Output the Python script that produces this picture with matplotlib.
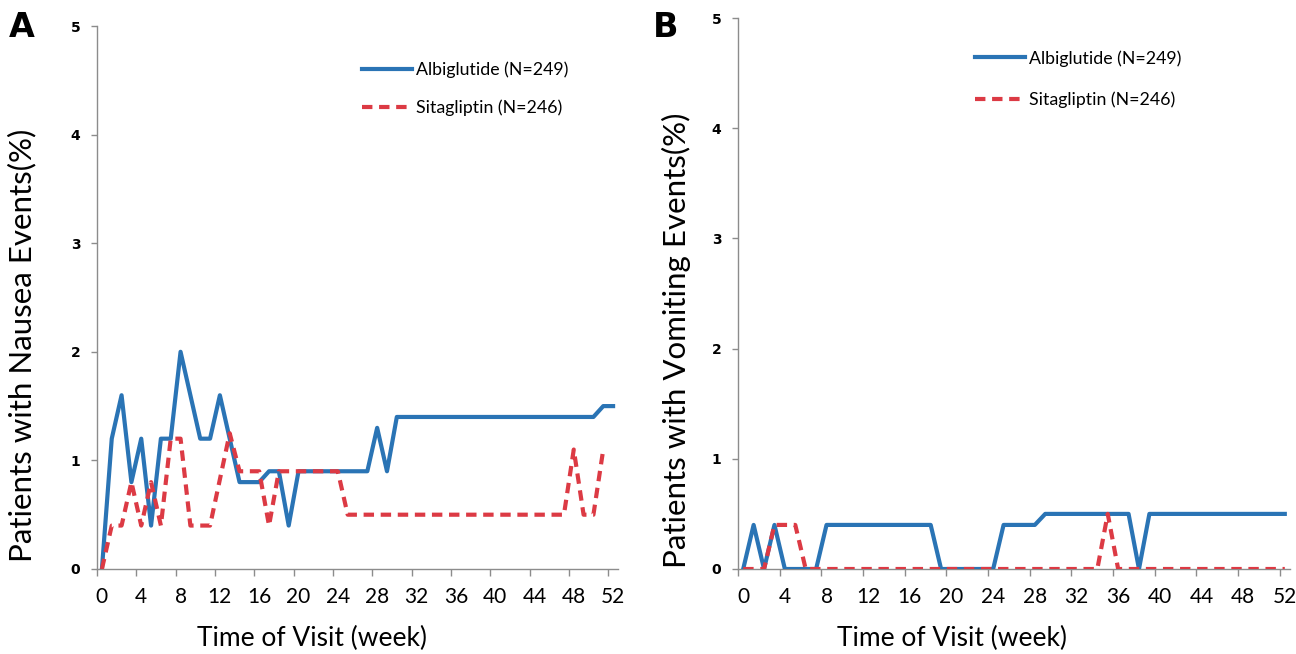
import matplotlib
matplotlib.use("Agg")
import matplotlib.pyplot as plt
from matplotlib.ticker import FixedLocator

# ---- data (weeks at which the line changes direction, and percentages) ----
nausea_albi_weeks = [0, 1, 2, 3, 4, 5, 6, 7, 8, 10, 11, 12, 14, 16, 17, 18, 19, 20, 27, 28, 29, 30, 50, 51, 52]
nausea_albi_vals  = [0, 1.2, 1.6, 0.8, 1.2, 0.4, 1.2, 1.2, 2.0, 1.2, 1.2, 1.6, 0.8, 0.8, 0.9, 0.9, 0.4, 0.9, 0.9, 1.3, 0.9, 1.4, 1.4, 1.5, 1.5]

nausea_sita_weeks = [0, 1, 2, 3, 4, 5, 6, 7, 8, 9, 11, 13, 14, 16, 17, 18, 24, 25, 47, 48, 49, 50, 51]
nausea_sita_vals  = [0, 0.4, 0.4, 0.8, 0.4, 0.8, 0.4, 1.2, 1.2, 0.4, 0.4, 1.25, 0.9, 0.9, 0.4, 0.9, 0.9, 0.5, 0.5, 1.1, 0.5, 0.5, 1.1]

vomit_albi_weeks = [0, 1, 2, 3, 4, 7, 8, 18, 19, 24, 25, 28, 29, 37, 38, 39, 52]
vomit_albi_vals  = [0, 0.4, 0, 0.4, 0, 0, 0.4, 0.4, 0, 0, 0.4, 0.4, 0.5, 0.5, 0, 0.5, 0.5]

vomit_sita_weeks = [0, 2, 3, 4, 5, 6, 34, 35, 36, 52]
vomit_sita_vals  = [0, 0, 0.4, 0.4, 0.4, 0, 0, 0.5, 0, 0]

week_labels = list(range(0, 53, 4))
y_ticks = [0, 1, 2, 3, 4, 5]
albi_label = "Albiglutide (N=249)"
sita_label = "Sitagliptin (N=246)"

BLUE = "#2a74b5"
RED = "#dc3a44"
GRAY = "#8c8c8c"
LBL_FONT = ["Lato", "DejaVu Sans"]
LW = 3.0

fig = plt.figure(figsize=(12.96, 6.54), dpi=100)
axA = fig.add_axes([97/1296, 1-569/654, (618-97)/1296, (569-26)/654])
axB = fig.add_axes([738/1296, 1-569/654, (1290-738)/1296, (569-18)/654])

def style(ax, ylabel, letter, letter_x, xlab_pos, ylab_pos, legend_anchor, labelspacing):
    ax.set_xlim(-0.5, 52.5)
    ax.set_ylim(0, 5)
    for s in ["top", "right"]:
        ax.spines[s].set_visible(False)
    for s in ["left", "bottom"]:
        ax.spines[s].set_color(GRAY)
        ax.spines[s].set_linewidth(1.0)
    ax.set_xticks(week_labels)
    ax.set_xticklabels([str(w) for w in week_labels], fontsize=15, family=LBL_FONT)
    ax.xaxis.set_minor_locator(FixedLocator([w - 0.5 for w in week_labels]))
    ax.tick_params(axis="x", which="major", length=0, pad=13)
    ax.tick_params(axis="x", which="minor", length=5, color=GRAY, width=1)
    ax.set_yticks(y_ticks)
    ax.set_yticklabels([str(v) for v in y_ticks], fontsize=10, family="DejaVu Sans", fontweight="bold")
    ax.tick_params(axis="y", length=4, color=GRAY, width=1, pad=8)
    ax.set_xlabel("Time of Visit (week)", fontsize=19, family=LBL_FONT, va="center")
    ax.xaxis.set_label_coords(*xlab_pos)
    ax.set_ylabel(ylabel, fontsize=22.5, family=LBL_FONT, va="center")
    ax.yaxis.set_label_coords(*ylab_pos)
    fig.text(letter_x, 1-37/654, letter, fontsize=24, fontweight="bold", family="DejaVu Sans", va="baseline")
    ax.legend(loc="center left", bbox_to_anchor=legend_anchor, frameon=False,
              prop={"family": LBL_FONT, "size": 12.8}, handlelength=2.8,
              labelspacing=labelspacing, handletextpad=0.22, borderaxespad=0)

axA.plot(nausea_albi_weeks, nausea_albi_vals, color=BLUE, lw=LW, label=albi_label, zorder=3)
axA.plot(nausea_sita_weeks, nausea_sita_vals, color=RED, lw=LW, dashes=(2.5, 1.6), label=sita_label, zorder=4)
axB.plot(vomit_albi_weeks, vomit_albi_vals, color=BLUE, lw=LW, label=albi_label, zorder=3)
axB.plot(vomit_sita_weeks, vomit_sita_vals, color=RED, lw=LW, dashes=(2.5, 1.6), label=sita_label, zorder=4)

style(axA, "Patients with Nausea Events(%)", "A", 9/1296,
      ((312-97)/521, (569-638)/543), ((22-97)/521, (569-345)/543),
      ((355-97)/521, (569-89)/543), 1.2)
style(axB, "Patients with Vomiting Events(%)", "B", 653/1296,
      ((952-738)/552, (569-638)/551), ((676-738)/552, (569-340)/551),
      ((968-738)/552, (569-79)/551), 1.4)

fig.savefig("out.png", dpi=100)
